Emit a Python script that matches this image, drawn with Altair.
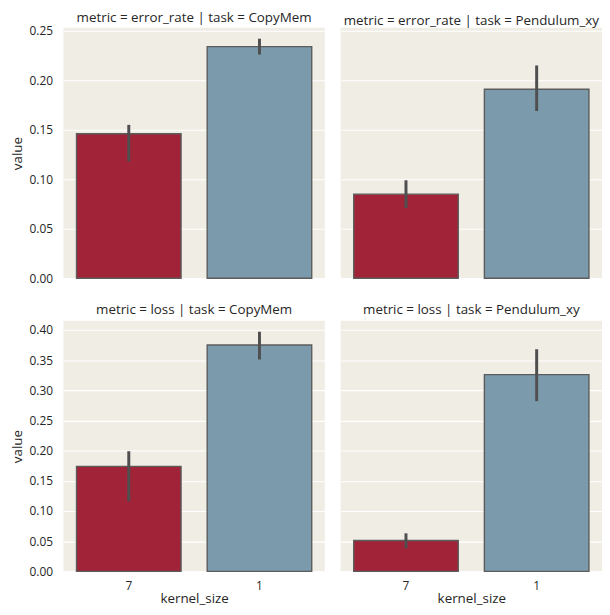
import altair as alt
import pandas as pd

# ---- data ----
metrics = ["error_rate", "loss"]
tasks = ["CopyMem", "Pendulum_xy"]
kernel_sizes = ["7", "1"]

err_copymem_mean = [0.146, 0.234]
err_copymem_lo = [0.118, 0.226]
err_copymem_hi = [0.155, 0.242]

err_pendulum_mean = [0.085, 0.191]
err_pendulum_lo = [0.071, 0.169]
err_pendulum_hi = [0.099, 0.215]

loss_copymem_mean = [0.174, 0.375]
loss_copymem_lo = [0.116, 0.351]
loss_copymem_hi = [0.199, 0.397]

loss_pendulum_mean = [0.051, 0.326]
loss_pendulum_lo = [0.038, 0.282]
loss_pendulum_hi = [0.063, 0.368]

err_ticks = [0.0, 0.05, 0.10, 0.15, 0.20, 0.25]
loss_ticks = [0.0, 0.05, 0.10, 0.15, 0.20, 0.25, 0.30, 0.35, 0.40]
err_ymax = 0.253
loss_ymax = 0.415

bar_colors = ["#a12338", "#7b9aac"]
FONT = "Open Sans"
TEXT = "#262626"
W, H = 264, 253


def panel(metric, task, mean, lo, hi, ymax, ticks, show_y, show_x, title_offset):
    df = pd.DataFrame({"kernel_size": kernel_sizes, "value": mean, "lo": lo, "hi": hi})
    base = alt.Chart(df)
    if show_x:
        xaxis = alt.Axis(title="kernel_size", labelAngle=0, ticks=False, tickSize=0,
                         labelPadding=9, titlePadding=0, domain=False, grid=False)
    else:
        xaxis = None
    x = alt.X("kernel_size:N", sort=kernel_sizes,
              scale=alt.Scale(paddingInner=0.2, paddingOuter=0.1), axis=xaxis)
    if show_y:
        yaxis = alt.Axis(title="value", values=ticks, format=".2f", ticks=False, tickSize=0,
                         labelPadding=11, titlePadding=5, domain=False, labelOverlap=False)
    else:
        yaxis = alt.Axis(title=None, values=ticks, labels=False, ticks=False, tickSize=0,
                         domain=False)
    yscale = alt.Scale(domain=[0, ymax], nice=False, zero=True)
    bars = base.mark_bar(stroke="#5c5c5c", strokeWidth=1.4).encode(
        x=x,
        y=alt.Y("value:Q", scale=yscale, axis=yaxis),
        color=alt.Color("kernel_size:N", scale=alt.Scale(domain=kernel_sizes, range=bar_colors),
                        legend=None),
    )
    err = base.mark_rule(strokeWidth=3, color="#4f4f4f").encode(
        x=x,
        y=alt.Y("lo:Q", scale=yscale, axis=yaxis),
        y2="hi:Q",
    )
    return alt.layer(bars, err).properties(
        width=W, height=H,
        title=alt.TitleParams(f"metric = {metric} | task = {task}", fontSize=13.5,
                              font=FONT, fontWeight="normal", color=TEXT,
                              offset=title_offset, anchor="middle"),
    )


top = alt.hconcat(
    panel(metrics[0], tasks[0], err_copymem_mean, err_copymem_lo, err_copymem_hi,
          err_ymax, err_ticks, True, False, 0),
    panel(metrics[0], tasks[1], err_pendulum_mean, err_pendulum_lo, err_pendulum_hi,
          err_ymax, err_ticks, False, False, 0),
    spacing=16,
)
bottom = alt.hconcat(
    panel(metrics[1], tasks[0], loss_copymem_mean, loss_copymem_lo, loss_copymem_hi,
          loss_ymax, loss_ticks, True, True, 4),
    panel(metrics[1], tasks[1], loss_pendulum_mean, loss_pendulum_lo, loss_pendulum_hi,
          loss_ymax, loss_ticks, False, True, 4),
    spacing=16,
)

chart = alt.vconcat(top, bottom, spacing=19).properties(
    padding={"left": 2, "top": 0, "right": 0, "bottom": 0},
    background="white",
).configure_view(
    fill="#f0ede5", stroke=None,
).configure_axis(
    gridColor="white", gridWidth=1.1, labelFont=FONT, titleFont=FONT,
    labelFontSize=12, titleFontSize=13.5, labelColor=TEXT, titleColor=TEXT,
    titleFontWeight="normal",
).configure_concat(spacing=16)

chart.save("out.html", embed_options={"renderer": "svg", "actions": False})
